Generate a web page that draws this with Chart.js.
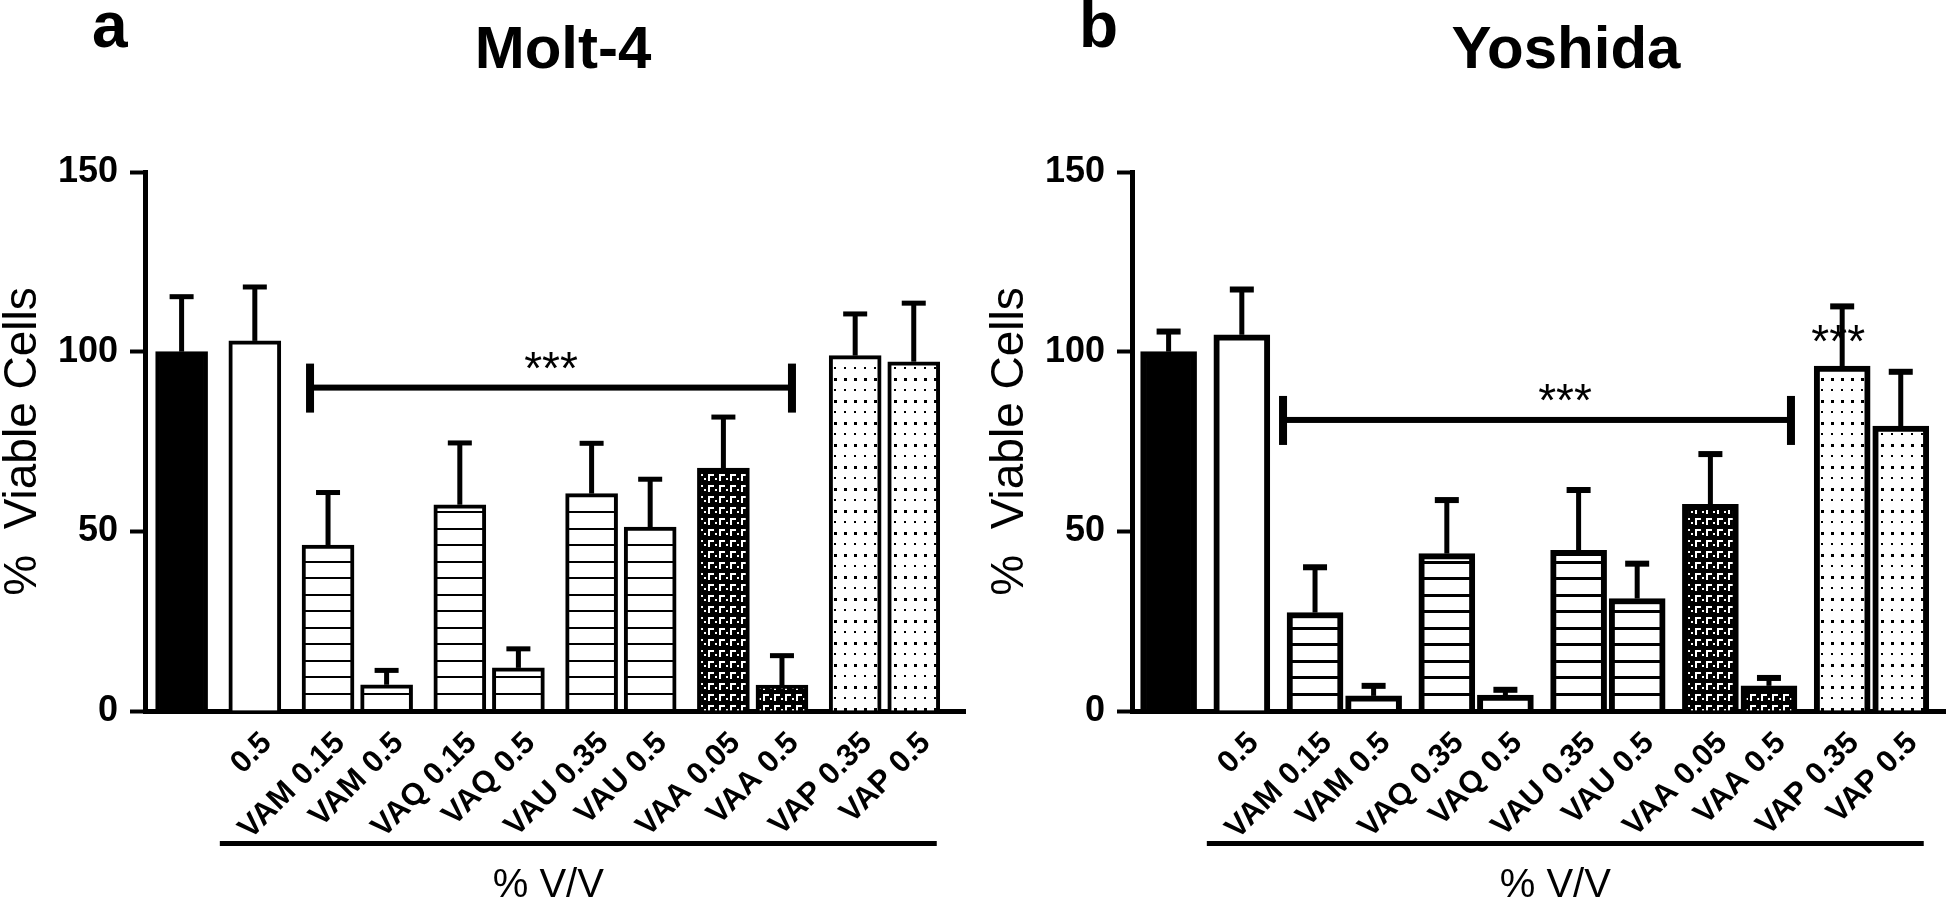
<!DOCTYPE html>
<html>
<head>
<meta charset="utf-8">
<script src="https://cdn.jsdelivr.net/npm/chart.js@4.4.1/dist/chart.umd.min.js"></script>
<style>
  html, body { margin: 0; padding: 0; background: #fff; overflow: hidden; }
  .panel { position: absolute; top: 0; height: 900px; width: 990px; }
  #panelA { left: 0; }
  #panelB { left: 987px; }
</style>
</head>
<body>
<div class="panel" id="panelA"><canvas id="chartA"></canvas></div>
<div class="panel" id="panelB"><canvas id="chartB"></canvas></div>
<script>
const FONT = "'Liberation Sans', Arial, sans-serif";

// bar labels (first bar is the untreated control, unlabelled in the figure)
const MOLT_LABELS = ["", "0.5", "VAM 0.15", "VAM 0.5", "VAQ 0.15", "VAQ 0.5", "VAU 0.35", "VAU 0.5", "VAA 0.05", "VAA 0.5", "VAP 0.35", "VAP 0.5"];
const YOSH_LABELS = ["", "0.5", "VAM 0.15", "VAM 0.5", "VAQ 0.35", "VAQ 0.5", "VAU 0.35", "VAU 0.5", "VAA 0.05", "VAA 0.5", "VAP 0.35", "VAP 0.5"];

// % viable cells, mean and upper error
const MOLT_MEAN = [100, 103, 46.2, 7.3, 57.4, 12, 60.5, 51.2, 67.6, 7.2, 98.9, 97.2];
const MOLT_ERR  = [15.3, 15, 14.6, 4, 17.2, 5.3, 14, 13.3, 14.2, 8.2, 11.6, 16.3];
const YOSH_MEAN = [100, 104.7, 27.4, 4.2, 43.8, 4.4, 44.7, 31.3, 57.5, 7, 96, 79.3];
const YOSH_ERR  = [5.6, 12.6, 12.6, 2.8, 14.9, 1.5, 16.8, 9.7, 14, 2.2, 16.6, 15.1];

const FILLS = ["solid", "open", "lines", "lines", "lines", "lines", "lines", "lines", "bricks", "bricks", "dots", "dots"];
const Y_TICKS = [0, 50, 100, 150];
const SIG_MOLT = 90;   // level of the *** bracket
const SIG_YOSH = 81;
const SIG_YOSH_VAP = 105.6;

// bars sit on a fine slot grid so pairs are closer than groups
const SLOTS = [2, 7, 12, 16, 21, 25, 30, 34, 39, 43, 48, 52];
const N_SLOTS = 56;

function toSlots(arr, blank) {
  const out = new Array(N_SLOTS).fill(blank);
  SLOTS.forEach((s, i) => { out[s] = arr[i]; });
  return out;
}

function makePattern(w, h, bg, fg, draw) {
  const c = document.createElement("canvas");
  c.width = w; c.height = h;
  const g = c.getContext("2d");
  g.fillStyle = bg; g.fillRect(0, 0, w, h);
  g.fillStyle = fg;
  draw(g);
  return g.createPattern(c, "repeat");
}

function fillSet(lineW) {
  return {
    solid: "#000",
    open: "#fff",
    lines: makePattern(8, 33, "#fff", "#000", g => {
      g.fillRect(0, 0, 8, lineW);
      g.fillRect(0, 16, 8, lineW);
    }),
    bricks: makePattern(11, 11, "#000", "#fff", g => {
      g.fillRect(0, 5, 2, 2);
      g.fillRect(4, 1, 6, 2);
      g.fillRect(4, 1, 2, 7);
    }),
    dots: makePattern(10, 22, "#fff", "#000", g => {
      g.fillRect(4, 4, 3, 3);
      g.fillRect(4, 15, 2, 2);
    })
  };
}

const panelDecor = {
  id: "panelDecor",
  afterDatasetsDraw(chart, args, o) {
    const ctx = chart.ctx;
    const meta = chart.getDatasetMeta(0);
    const ds = chart.data.datasets[0];
    const y = chart.scales.y;
    const area = chart.chartArea;
    const bars = SLOTS.map(s => meta.data[s]);

    ctx.save();
    ctx.fillStyle = "#000";

    // error bars (upper only)
    SLOTS.forEach(s => {
      const bar = meta.data[s];
      const top = y.getPixelForValue(ds.data[s] + ds.errors[s]);
      ctx.fillRect(bar.x - o.errLine / 2, top, o.errLine, bar.y - top);
      ctx.fillRect(bar.x - o.capW / 2, top - o.capT / 2, o.capW, o.capT);
    });

    // significance bracket
    const sy = y.getPixelForValue(o.sig.level);
    const x1 = bars[o.sig.from].x + o.sig.dx1;
    const x2 = bars[o.sig.to].x + o.sig.dx2;
    ctx.fillRect(x1, sy - 3, x2 - x1, 6);
    ctx.fillRect(x1 - 4, sy - 24, 8, 49);
    ctx.fillRect(x2 - 4, sy - 24, 8, 49);

    ctx.font = "46px " + FONT;
    ctx.textAlign = "center";
    ctx.textBaseline = "alphabetic";
    ctx.fillText("***", (x1 + x2) / 2 + o.sig.starDx, sy - 4);
    (o.extraStars || []).forEach(st => {
      ctx.fillText("***", bars[st.bar].x + st.dx, y.getPixelForValue(st.level) + 25);
    });

    // panel letter and title
    ctx.textAlign = "left";
    ctx.font = "bold 64px " + FONT;
    ctx.fillText(o.letter, 92, 47);
    ctx.textAlign = "center";
    ctx.font = "bold 60px " + FONT;
    ctx.fillText(o.title, (area.left + area.right) / 2 + o.titleDx, 68);

    // treatment underline and axis caption
    const u1 = bars[1].x - 35;
    const u2 = bars[11].x + 23;
    ctx.fillRect(u1, 841, u2 - u1, 5);
    ctx.font = "40px " + FONT;
    ctx.fillText("% V/V", (u1 + u2) / 2 + o.capDx, 897);
    ctx.restore();
  }
};

function buildChart(id, labels, mean, err, look, decor) {
  const fills = fillSet(look.lineW);
  return new Chart(document.getElementById(id), {
    type: "bar",
    data: {
      labels: toSlots(labels, ""),
      datasets: [{
        data: toSlots(mean, null),
        errors: toSlots(err, null),
        backgroundColor: toSlots(FILLS.map(f => fills[f]), "rgba(0,0,0,0)"),
        borderColor: "#000",
        borderWidth: look.border,
        borderSkipped: "bottom",
        barThickness: look.barW
      }]
    },
    options: {
      responsive: true,
      maintainAspectRatio: false,
      animation: false,
      layout: { padding: { top: 172, right: 25, left: 0, bottom: 0 } },
      plugins: {
        legend: { display: false },
        tooltip: { enabled: false },
        panelDecor: decor
      },
      scales: {
        x: {
          offset: true,
          grid: { display: false, drawTicks: false },
          border: { display: true, color: "#000", width: 5 },
          ticks: {
            autoSkip: false,
            minRotation: 45,
            maxRotation: 45,
            padding: 14,
            labelOffset: 12,
            color: "#000",
            font: { family: FONT, size: 31, weight: "bold" }
          },
          afterFit: s => {
            s.height = 189;
            // keep rotated labels from squeezing the plot
            s.paddingLeft = 0;
            s.paddingRight = 0;
          }
        },
        y: {
          min: 0,
          max: 150,
          afterBuildTicks: s => { s.ticks = Y_TICKS.map(v => ({ value: v })); },
          grid: { display: true, drawOnChartArea: false, drawTicks: true, tickLength: 15, tickWidth: 4, tickColor: "#000" },
          border: { display: true, color: "#000", width: 5 },
          ticks: {
            padding: 12,
            color: "#000",
            font: { family: FONT, size: 36, weight: "bold" }
          },
          title: {
            display: true,
            text: "%  Viable Cells",
            color: "#000",
            padding: 0,
            font: { family: FONT, size: 46, lineHeight: 1 }
          },
          afterFit: s => { s.width = 145; }
        }
      }
    },
    plugins: [panelDecor]
  });
}

buildChart("chartA", MOLT_LABELS, MOLT_MEAN, MOLT_ERR,
  { barW: 52, border: 4, lineW: 2 },
  { letter: "a", title: "Molt-4", titleDx: 8, capDx: -30,
    errLine: 5, capW: 24, capT: 5,
    sig: { level: SIG_MOLT, from: 2, to: 9, dx1: -18, dx2: 10, starDx: 0 } });

buildChart("chartB", YOSH_LABELS, YOSH_MEAN, YOSH_ERR,
  { barW: 56, border: 6, lineW: 3 },
  { letter: "b", title: "Yoshida", titleDx: 24, capDx: -10,
    errLine: 5, capW: 24, capT: 6,
    sig: { level: SIG_YOSH, from: 2, to: 9, dx1: -32, dx2: 22, starDx: 28 },
    extraStars: [{ bar: 10, level: SIG_YOSH_VAP, dx: -4 }] });
</script>
</body>
</html>
